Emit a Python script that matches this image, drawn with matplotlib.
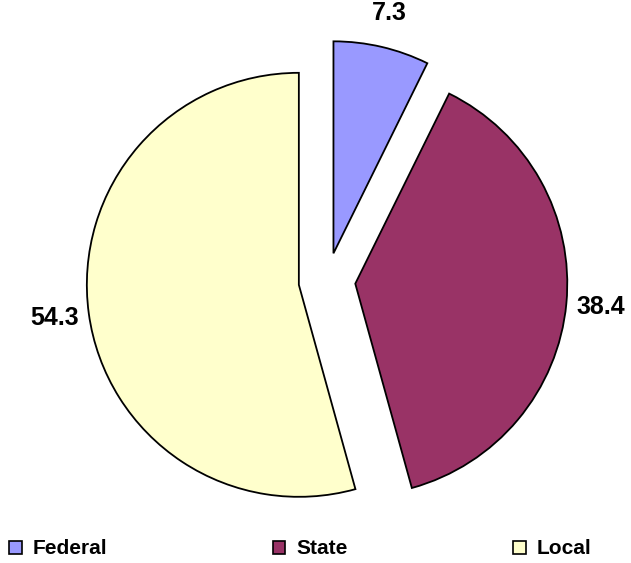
import matplotlib
matplotlib.use("Agg")
import matplotlib.pyplot as plt
from matplotlib.patches import Patch

categories = ["Federal", "State", "Local"]
values = [7.3, 38.4, 54.3]
colors = ["#9999FF", "#993366", "#FFFFCC"]

plt.rcParams['font.family'] = ['Liberation Sans', 'DejaVu Sans']

W, H = 631, 563
fig = plt.figure(figsize=(W / 100, H / 100), dpi=100)
ax = fig.add_axes([0, 0, 1, 1])

cx, cy, R = 327, 281, 212
total = sum(values)

wedges, texts, autotexts = ax.pie(
    values,
    colors=colors,
    startangle=90,
    counterclock=False,
    explode=[0.134] * len(values),
    radius=1,
    autopct=lambda p: f"{p * total / 100:.1f}",
    pctdistance=1.165,
    wedgeprops=dict(edgecolor="black", linewidth=1.3),
    textprops=dict(fontsize=18, fontweight="bold", color="black"),
)

ax.set_aspect("auto")
ax.set_xlim(-cx / R, (W - cx) / R)
ax.set_ylim(-(H - cy) / R, cy / R)
ax.set_axis_off()

handles = [Patch(facecolor=c, edgecolor="black", linewidth=1.2) for c in colors]
fig.legend(
    handles, categories,
    loc="center left",
    bbox_to_anchor=(9 / W, 1 - 549 / H),
    ncol=3,
    frameon=False,
    borderpad=0,
    borderaxespad=0,
    handlelength=0.6,
    handleheight=0.6,
    handletextpad=0.53,
    columnspacing=7.95,
    prop=dict(size=15, weight="bold"),
)

fig.savefig("out.png", dpi=100)
